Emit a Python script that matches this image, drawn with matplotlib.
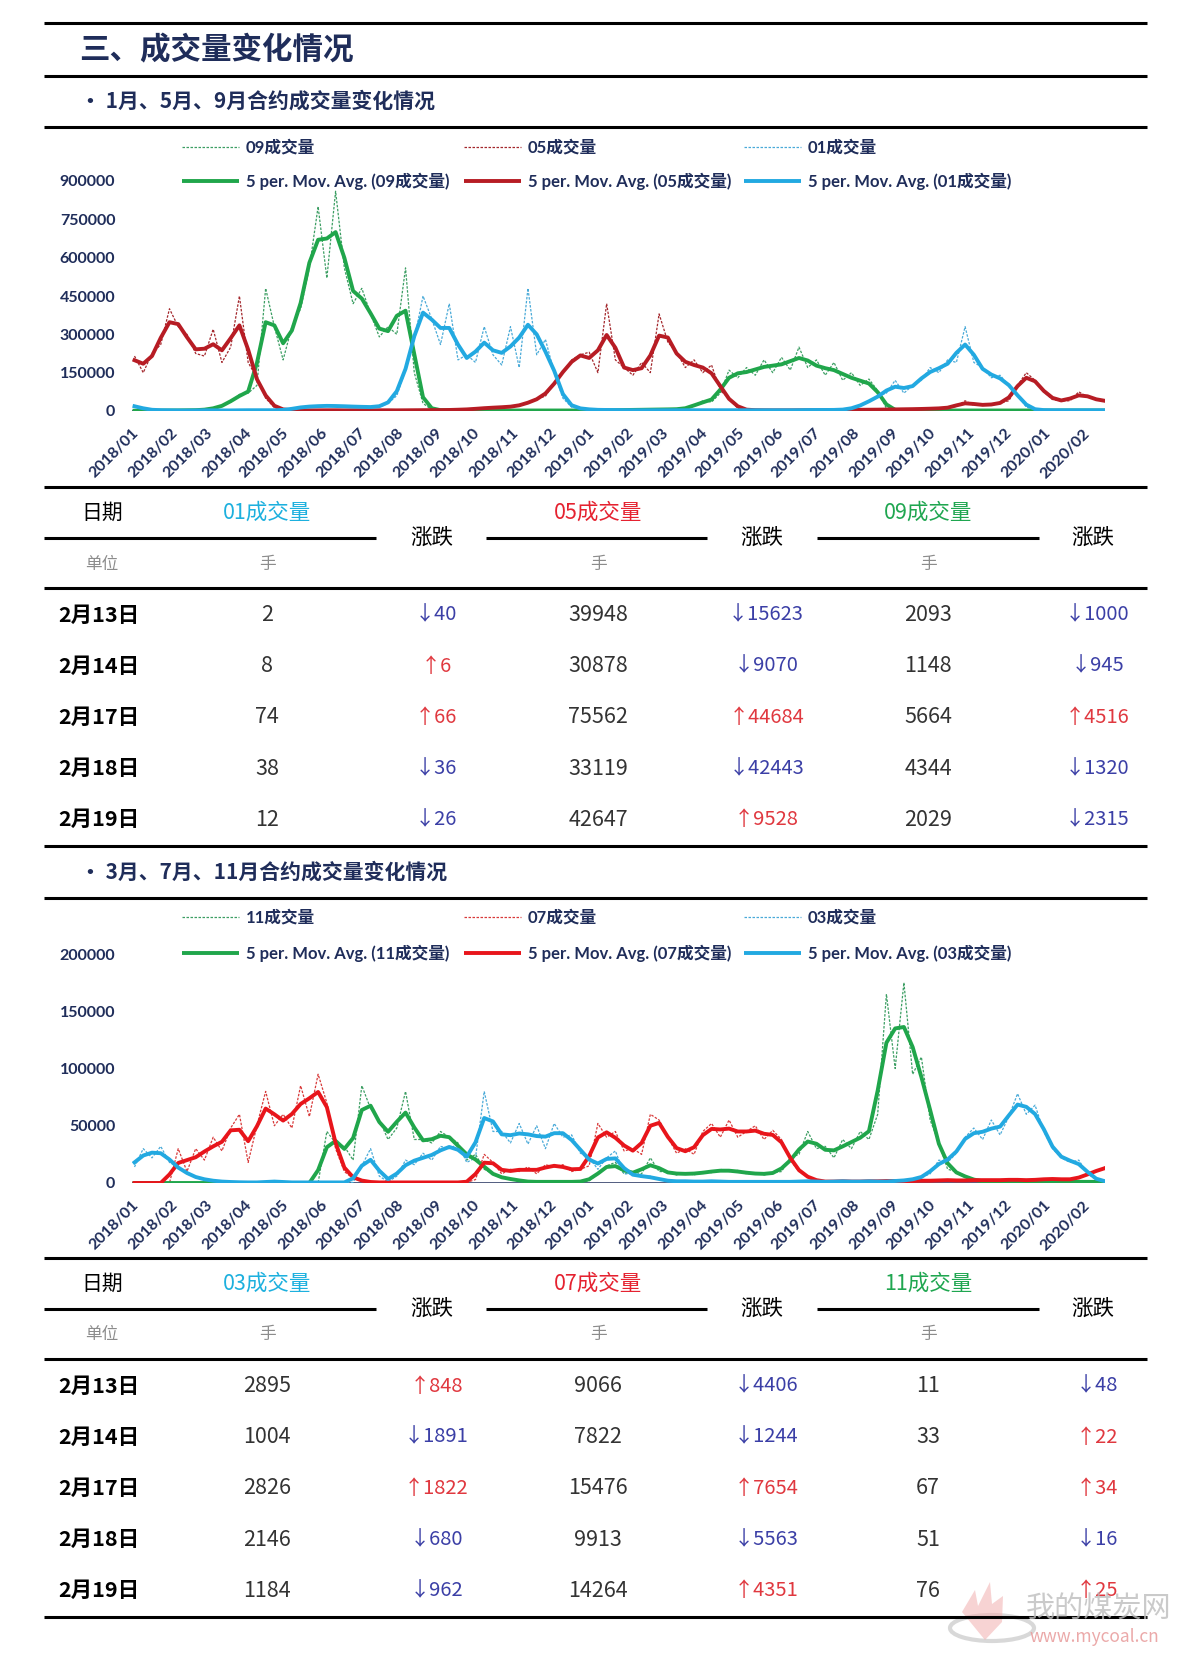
import numpy as np
import pandas as pd
import matplotlib
matplotlib.use('Agg')
import matplotlib.pyplot as plt
import matplotlib.dates as mdates
from matplotlib.lines import Line2D
from matplotlib.patches import Polygon, Ellipse
from matplotlib.ticker import FuncFormatter

W, H = 1200, 1653
plt.rcParams['font.family'] = ['Noto Sans CJK SC', 'DejaVu Sans']
CHART_FONT = ['Lato', 'Noto Sans CJK SC', 'DejaVu Sans']
NAVY = '#1F2D5A'

# weekly samples of daily volume, thousand lots
weeks = pd.date_range('2018-01-03', '2020-02-19', freq='7D')

vol09 = [1, 1, 1, 2, 2, 2, 3, 3, 4, 10,
         18, 35, 65, 70, 100, 480, 330, 200, 330, 400,
         560, 800, 520, 860, 560, 420, 480, 380, 290, 330,
         300, 560, 150, 30, 5, 3, 2, 2, 2, 2,
         2, 2, 2, 2, 2, 2, 2, 2, 2, 2,
         2, 2, 2, 3, 3, 3, 4, 4, 5, 5,
         6, 6, 7, 8, 20, 40, 35, 70, 160, 130,
         170, 140, 200, 150, 210, 160, 250, 170, 200, 140,
         190, 120, 150, 100, 125, 80, 10, 3, 2, 2,
         2, 2, 2, 2, 2, 2, 2, 2, 2, 2,
         2, 2, 2, 2, 2, 2, 2, 2, 2, 2,
         2, 2]
vol05 = [215, 150, 225, 260, 400, 330, 300, 225, 215, 320,
         190, 250, 450, 190, 130, 50, 14, 4, 3, 2,
         3, 2, 3, 3, 2, 3, 3, 2, 3, 3,
         2, 3, 3, 3, 4, 3, 4, 5, 6, 8,
         12, 12, 16, 15, 22, 30, 48, 58, 110, 150,
         200, 220, 230, 150, 420, 200, 170, 140, 190, 150,
         380, 270, 230, 170, 200, 150, 180, 80, 50, 10,
         4, 3, 3, 2, 3, 2, 3, 3, 3, 3,
         4, 4, 4, 5, 5, 5, 6, 6, 7, 7,
         8, 9, 10, 12, 18, 40, 22, 26, 22, 32,
         40, 100, 150, 120, 75, 45, 40, 40, 75, 55,
         45, 38]
vol01 = [22, 8, 4, 3, 3, 2, 2, 2, 3, 3,
         2, 2, 3, 3, 3, 3, 3, 3, 8, 15,
         18, 18, 22, 18, 20, 16, 17, 15, 15, 30,
         60, 160, 280, 450, 360, 260, 420, 200, 220, 190,
         330, 220, 180, 330, 170, 480, 220, 280, 150, 50,
         15, 10, 6, 4, 4, 4, 3, 3, 3, 3,
         3, 3, 3, 3, 3, 3, 3, 3, 3, 3,
         3, 3, 3, 3, 3, 3, 3, 4, 4, 4,
         4, 5, 8, 22, 35, 60, 70, 120, 70, 100,
         120, 170, 150, 200, 190, 330, 190, 170, 130, 140,
         100, 65, 15, 5, 3, 3, 3, 3, 3, 3,
         3, 3]

vol11 = [0, 0, 0, 0, 0, 0, 0, 0, 0, 0,
         0, 0, 0, 0, 0, 0, 0, 0, 0, 0,
         0, 0, 45, 35, 32, 20, 85, 65, 55, 38,
         48, 80, 38, 38, 35, 45, 40, 35, 20, 25,
         12, 8, 4, 4, 2, 1, 1, 1, 1, 1,
         1, 1, 2, 8, 15, 18, 8, 10, 8, 22,
         10, 10, 7, 9, 7, 10, 9, 12, 10, 11,
         8, 9, 7, 9, 10, 22, 25, 45, 30, 32,
         22, 38, 30, 45, 38, 60, 165, 100, 175, 95,
         110, 55, 35, 12, 10, 5, 3, 1, 1, 1,
         1, 1, 1, 1, 1, 1, 1, 1, 1, 1,
         1, 1]
vol07 = [0, 0, 0, 0, 0, 30, 10, 30, 20, 40,
         28, 48, 60, 18, 50, 80, 50, 60, 48, 85,
         58, 95, 70, 30, 10, 4, 2, 0.5, 0.5, 0.5,
         0.5, 0.5, 0.5, 0.5, 0.5, 0.5, 0.5, 0.5, 0.5, 3,
         25, 18, 8, 12, 10, 14, 8, 16, 14, 16,
         10, 12, 15, 52, 40, 45, 28, 30, 25, 60,
         55, 40, 26, 30, 25, 45, 52, 40, 55, 40,
         45, 50, 38, 46, 38, 20, 10, 5, 2, 1,
         1, 2, 1, 1, 2, 1, 2, 2, 1, 2,
         2, 2, 2, 3, 2, 2, 3, 2, 3, 2,
         3, 3, 2, 3, 3, 4, 3, 3, 4, 8,
         10, 14]
vol03 = [14, 30, 22, 32, 18, 14, 8, 5, 3, 2,
         1, 1, 0.5, 0.5, 0.5, 0.5, 2, 0.5, 0.5, 0.5,
         0.5, 0.5, 0.5, 0.5, 0.5, 0.5, 15, 30, 6, 1,
         6, 20, 16, 26, 20, 32, 30, 34, 18, 22,
         80, 45, 45, 35, 52, 34, 50, 30, 52, 40,
         42, 26, 22, 12, 22, 28, 8, 8, 5, 6,
         3, 2, 1, 2, 1, 1, 2, 1, 1, 1,
         1, 1, 1, 1, 1, 1, 1, 2, 1, 1,
         1, 2, 1, 1, 2, 1, 1, 2, 2, 3,
         5, 8, 20, 18, 26, 40, 48, 38, 55, 42,
         58, 78, 60, 68, 45, 30, 22, 18, 20, 8,
         3, 1]

# tables
dates = ['2月13日', '2月14日', '2月17日', '2月18日', '2月19日']
t1_names = ['01成交量', '05成交量', '09成交量']
t1_vol = [[2, 8, 74, 38, 12],
          [39948, 30878, 75562, 33119, 42647],
          [2093, 1148, 5664, 4344, 2029]]
t1_chg = [[-40, 6, 66, -36, -26],
          [-15623, -9070, 44684, -42443, 9528],
          [-1000, -945, 4516, -1320, -2315]]
t2_names = ['03成交量', '07成交量', '11成交量']
t2_vol = [[2895, 1004, 2826, 2146, 1184],
          [9066, 7822, 15476, 9913, 14264],
          [11, 33, 67, 51, 76]]
t2_chg = [[848, -1891, 1822, -680, -962],
          [-4406, -1244, 7654, -5563, 4351],
          [-48, 22, 34, -16, 25]]

fig = plt.figure(figsize=(12, 16.53), dpi=100)


def X(px):
    return px / W


def Y(py):
    return 1 - py / H


def rule(y, x0=44, x1=1147, lw=2.2):
    fig.add_artist(Line2D([X(x0), X(x1)], [Y(y), Y(y)], color='black',
                          lw=lw, solid_capstyle='butt'))


def txt(x, y, s, size, color='black', weight='normal', ha='center', family=None, alpha=1):
    fig.text(X(x), Y(y), s, fontsize=size, color=color, fontweight=weight,
             ha=ha, va='center', family=family or ['Noto Sans CJK SC', 'DejaVu Sans'],
             alpha=alpha)


def smooth(v):
    p = np.r_[v[0], v, v[-1]]
    return 0.25 * p[:-2] + 0.5 * p[1:-1] + 0.25 * p[2:]


def chart(top, bottom, series, ymax, ystep):
    ax = fig.add_axes([X(132), Y(bottom), X(1105) - X(132), (bottom - top) / H])
    ax.axhline(0, color=NAVY, lw=1.8, zorder=1)
    for vals, c_raw, c_ma in series:
        assert len(vals) == len(weeks)
        ax.plot(weeks, np.asarray(vals, float) * 1000, color=c_raw, lw=0.9,
                ls=(0, (2, 1.2)), zorder=2)
    for vals, c_raw, c_ma in series:
        ax.plot(weeks, smooth(np.asarray(vals, float) * 1000), color=c_ma, lw=2.8,
                zorder=3, solid_joinstyle='round')
    ax.set_ylim(0, ymax)
    ax.set_xlim(pd.Timestamp('2018-01-01'), pd.Timestamp('2020-02-19'))
    ax.set_yticks(np.arange(0, ymax + 1, ystep))
    ax.yaxis.set_major_formatter(FuncFormatter(lambda v, p: f'{int(v)}'))
    ax.xaxis.set_major_locator(mdates.MonthLocator())
    ax.xaxis.set_major_formatter(mdates.DateFormatter('%Y/%m'))
    ax.tick_params(axis='y', length=0, colors=NAVY, labelsize=11.5, pad=12)
    ax.tick_params(axis='x', length=0, colors=NAVY, labelsize=11.5, pad=11)
    for lab in ax.get_xticklabels():
        lab.set_rotation(45)
        lab.set_ha('right')
        lab.set_rotation_mode('anchor')
    for lab in ax.get_xticklabels() + ax.get_yticklabels():
        lab.set_fontfamily(CHART_FONT)
        lab.set_fontweight('bold')
    for s in ax.spines.values():
        s.set_visible(False)
    ax.patch.set_alpha(0)
    return ax


def legend(y1, y2, names, c_raw, c_ma):
    for x0, n, cr, cm in zip([182, 464, 744], names, c_raw, c_ma):
        fig.add_artist(Line2D([X(x0), X(x0 + 57)], [Y(y1)] * 2, color=cr, lw=0.9,
                              ls=(0, (2, 1.2))))
        txt(x0 + 64, y1, n, 12, color=NAVY, weight='bold', ha='left', family=CHART_FONT)
        fig.add_artist(Line2D([X(x0), X(x0 + 57)], [Y(y2)] * 2, color=cm, lw=2.8,
                              solid_capstyle='butt'))
        txt(x0 + 64, y2, f'5 per. Mov. Avg. ({n})', 12, color=NAVY, weight='bold',
            ha='left', family=CHART_FONT)


vol_x = [267, 598, 928]
chg_x = [432, 762, 1093]
UP, DOWN = '#E0383F', '#3B3FA6'


def table(y0, names, colors, vols, chgs):
    rule(y0)
    txt(102, y0 + 26, '日期', 15)
    for j in range(3):
        txt(vol_x[j], y0 + 26, names[j], 15.5, color=colors[j])
        txt(chg_x[j], y0 + 52, '涨跌', 15.5)
        txt(vol_x[j], y0 + 77, '手', 12, color='#8C8C8C')
    for a, b in [(44, 376), (486, 707), (817, 1039)]:
        rule(y0 + 51, a, b)
    txt(102, y0 + 77, '单位', 12, color='#8C8C8C')
    rule(y0 + 101)
    for i, d in enumerate(dates):
        y = y0 + 128 + 51.2 * i
        txt(58, y, d, 15.5, weight='bold', ha='left')
        for j in range(3):
            txt(vol_x[j], y, str(vols[j][i]), 15.5, color='#333333')
            c = chgs[j][i]
            arrow = '↑' if c > 0 else '↓'
            txt(chg_x[j] + 4, y, f'{arrow}{abs(c)}', 14.5, color=UP if c > 0 else DOWN)
    rule(y0 + 359)


# header
rule(23)
txt(79, 50, '三、成交量变化情况', 22, color=NAVY, weight='heavy', ha='left')
rule(76)
txt(80, 101, '• 1月、5月、9月合约成交量变化情况', 15, color=NAVY, weight='bold', ha='left')
rule(127)

# first block
G_RAW, G_MA = '#3C9E63', '#20A64B'
R_RAW, R_MA = '#A3272C', '#B71C24'
B_RAW, B_MA = '#4AAAD8', '#22A9E1'
chart(181, 411, [(vol09, G_RAW, G_MA), (vol05, R_RAW, R_MA), (vol01, B_RAW, B_MA)],
      900000, 150000)
legend(147, 181, ['09成交量', '05成交量', '01成交量'],
       [G_RAW, R_RAW, B_RAW], [G_MA, R_MA, B_MA])
table(487, t1_names, ['#1DB0DE', '#E52230', '#1FA650'], t1_vol, t1_chg)

# second block
txt(80, 872, '• 3月、7月、11月合约成交量变化情况', 15, color=NAVY, weight='bold', ha='left')
rule(898)
R2_RAW, R2_MA = '#D83A3A', '#E8151B'
chart(954, 1183, [(vol11, G_RAW, G_MA), (vol07, R2_RAW, R2_MA), (vol03, B_RAW, B_MA)],
      200000, 50000)
legend(917, 953, ['11成交量', '07成交量', '03成交量'],
       [G_RAW, R2_RAW, B_RAW], [G_MA, R2_MA, B_MA])
table(1258, t2_names, ['#1DB0DE', '#E52230', '#1FA650'], t2_vol, t2_chg)

# watermark
fig.add_artist(Ellipse((X(992), Y(1628)), X(84), 26 / H, fill=False,
                       ec='#C8C8C8', lw=3, alpha=0.7))
fig.add_artist(Polygon([(X(985), Y(1640)), (X(962), Y(1612)), (X(975), Y(1590)),
                        (X(978), Y(1606)), (X(990), Y(1582)), (X(992), Y(1604)),
                        (X(1003), Y(1596)), (X(1002), Y(1622))],
                       closed=True, fc='#F2AFAF', ec='none', alpha=0.55))
txt(1026, 1610, '我的煤炭网', 21, color='#BDBDBD', ha='left', alpha=0.8)
txt(1030, 1637, 'www.mycoal.cn', 12.5, color='#E9A0A0', ha='left', alpha=0.9)

fig.savefig('out.png', dpi=100)
